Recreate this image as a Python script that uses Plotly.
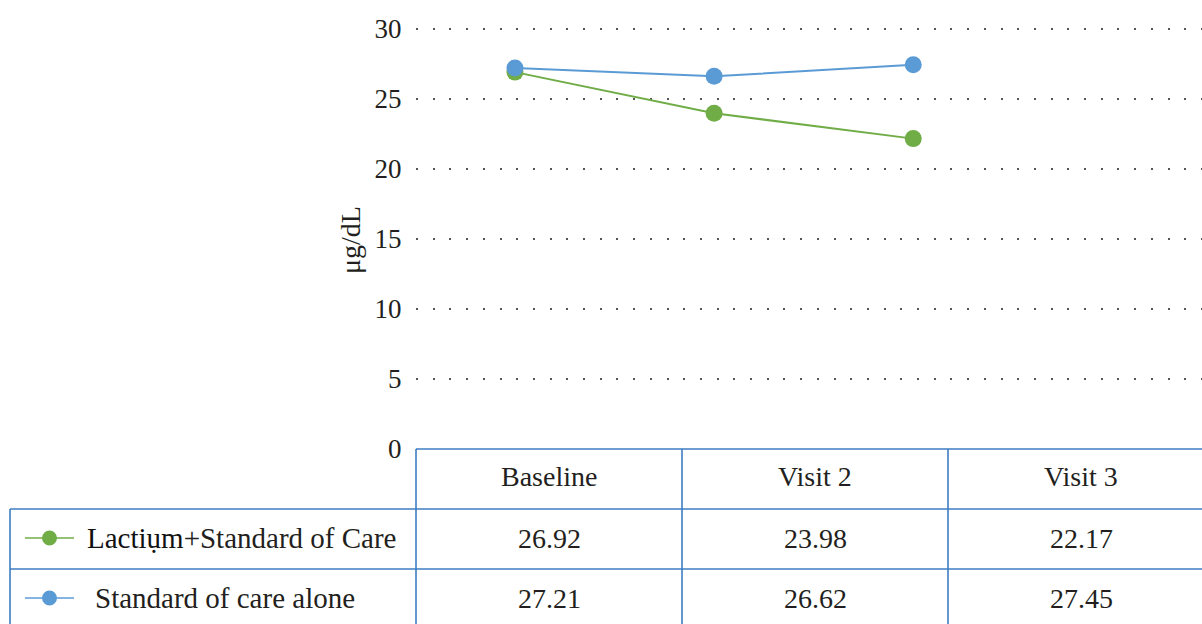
import plotly.graph_objects as go

# Data
visits = ["Baseline", "Visit 2", "Visit 3"]
lactium_soc = [26.92, 23.98, 22.17]
soc_alone = [27.21, 26.62, 27.45]
series_names = ["Lactiụm+Standard of Care", "Standard of care alone"]
y_ticks = [0, 5, 10, 15, 20, 25, 30]

W, H = 1202, 624
GREEN = "#70AD47"
BLUE = "#5B9BD5"
GRID_BLUE = "#3D7DC2"
TEXT = "#231F20"
FONT = "Liberation Serif"
FS = 28


def px(x):
    return x / W


def py(y):
    return 1 - y / H


fig = go.Figure()
fig.add_trace(go.Scatter(
    x=visits, y=lactium_soc, mode="lines+markers", name=series_names[0],
    line=dict(color=GREEN, width=2), marker=dict(color=GREEN, size=17),
    cliponaxis=False, showlegend=False,
))
fig.add_trace(go.Scatter(
    x=visits, y=soc_alone, mode="lines+markers", name=series_names[1],
    line=dict(color=BLUE, width=2), marker=dict(color=BLUE, size=17),
    cliponaxis=False, showlegend=False,
))

shapes = []


def hline(y, x0, x1):
    shapes.append(dict(type="line", xref="paper", yref="paper",
                       x0=px(x0), x1=px(x1), y0=py(y), y1=py(y),
                       line=dict(color=GRID_BLUE, width=1.6), layer="above"))


def vline(x, y0, y1):
    shapes.append(dict(type="line", xref="paper", yref="paper",
                       x0=px(x), x1=px(x), y0=py(y0), y1=py(y1),
                       line=dict(color=GRID_BLUE, width=1.6), layer="above"))


# data table grid
hline(449, 416, W)
hline(509, 10, W)
hline(569, 10, W)
vline(10, 509, H)
for xc in (416, 682, 948):
    vline(xc, 449, H)

annotations = []
col_centers = [549, 815, 1081]
for name, xc in zip(visits, col_centers):
    annotations.append(dict(text=name, x=px(xc), y=py(477), xref="paper", yref="paper",
                            xanchor="center", yanchor="middle", showarrow=False,
                            font=dict(family=FONT, size=FS, color=TEXT)))

rows = [(lactium_soc, GREEN, 538, 85), (soc_alone, BLUE, 598, 93)]
for (vals, color, yc, xl), name in zip(rows, series_names):
    for v, xc in zip(vals, col_centers):
        annotations.append(dict(text=f"{v:.2f}", x=px(xc), y=py(yc), xref="paper", yref="paper",
                                xanchor="center", yanchor="middle", showarrow=False,
                                font=dict(family=FONT, size=FS, color=TEXT)))
    label = name
    if name.startswith("Lactiụm"):
        label = "<span style='color:#111111'>Lactiụm</span>" + name[len("Lactiụm"):]
    annotations.append(dict(text=label, x=px(xl), y=py(yc), xref="paper", yref="paper",
                            xanchor="left", yanchor="middle", showarrow=False,
                            font=dict(family=FONT, size=FS + 1, color=TEXT)))
    # legend key: short line with a dot
    shapes.append(dict(type="line", xref="paper", yref="paper",
                       x0=px(25), x1=px(74), y0=py(yc), y1=py(yc),
                       line=dict(color=color, width=1.6), layer="above"))
    shapes.append(dict(type="circle", xref="paper", yref="paper",
                       x0=px(42), x1=px(57), y0=py(yc + 7.5), y1=py(yc - 7.5),
                       fillcolor=color, line=dict(color=color, width=0), layer="above"))

annotations.append(dict(text="μg/dL", x=px(351), y=py(240), xref="paper", yref="paper",
                        xanchor="center", yanchor="middle", textangle=-90, showarrow=False,
                        font=dict(family=FONT, size=FS, color=TEXT)))

# y range extended slightly above 30 so the top grid line is kept
Y_TOP = 30.3
PX_PER_UNIT = 14.0

fig.update_layout(
    width=W, height=H, autosize=False,
    margin=dict(l=0, r=0, t=0, b=0, pad=0, autoexpand=False),
    paper_bgcolor="white", plot_bgcolor="white",
    shapes=shapes, annotations=annotations,
    xaxis=dict(domain=[px(416), 1], range=[-0.497, 3.45], showgrid=False,
               showticklabels=False, zeroline=False, showline=False,
               automargin=False, fixedrange=True),
    yaxis=dict(domain=[py(449), py(449 - Y_TOP * PX_PER_UNIT)], range=[0, Y_TOP],
               tickvals=y_ticks, automargin=False,
               showgrid=True, gridcolor="#555555", gridwidth=2, griddash="2px,14.7px",
               zeroline=False, showline=False, ticks="outside", ticklen=8,
               tickcolor="rgba(0,0,0,0)",
               tickfont=dict(family=FONT, size=27, color=TEXT)),
)

fig.write_html("out.html")
